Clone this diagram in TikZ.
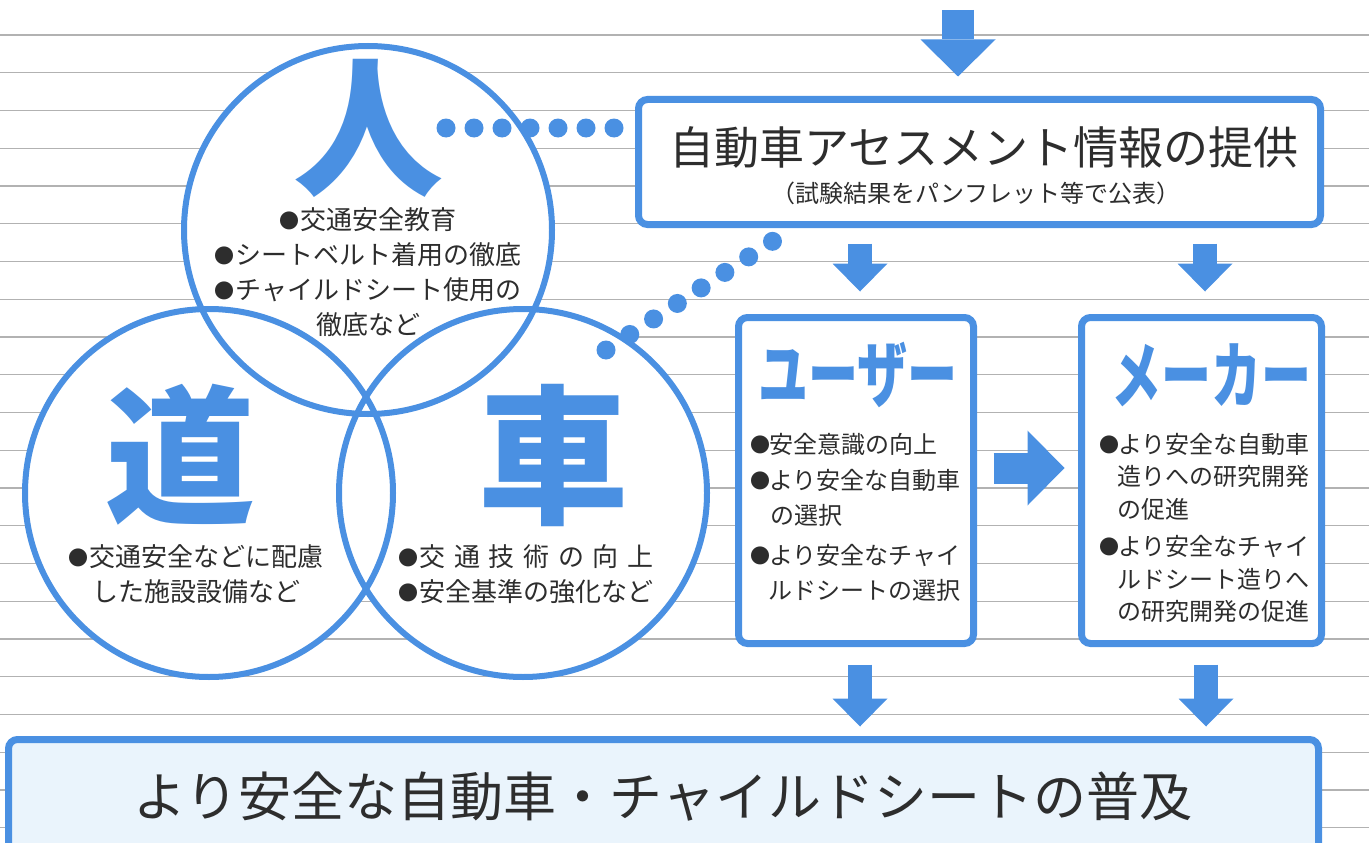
\documentclass[tikz,border=0pt]{standalone}
\usepackage{fontspec}
\setmainfont{Noto Sans CJK JP}
\usetikzlibrary{arrows.meta,calc}
\definecolor{ablue}{RGB}{74,144,226}
\definecolor{lgray}{RGB}{178,178,178}
\definecolor{pale}{RGB}{234,244,252}
\definecolor{inkc}{RGB}{45,45,45}
\newcommand{\bul}{\makebox[0.8em][l]{\raisebox{1pt}{\fontsize{20}{20}\selectfont ●}}}
\begin{document}
\begin{tikzpicture}[x=1pt,y=-1pt,
  gline/.style={draw=lgray,line width=1.4pt},
  circfill/.style={circle,fill=white,minimum size=368pt,inner sep=0pt},
  cline/.style={draw=ablue,line width=6pt},
  bigch/.style={text=ablue,font=\fontsize{150}{150}\selectfont\bfseries,inner sep=0pt},
  small/.style={text=inkc,font=\fontsize{26}{35}\selectfont,inner sep=0pt},
  boxtx/.style={text=inkc,font=\fontsize{24}{35}\selectfont,inner sep=0pt,align=left,anchor=north west},
  boxst/.style={draw=ablue,line width=7pt,rounded corners=9pt,fill=white,inner sep=0pt},
  dots/.style={draw=ablue,line width=19pt,line cap=round,dash pattern=on 0pt off 28pt},
  bigarr/.style={draw=ablue,line width=32pt,-{Triangle[width=75pt,length=37pt,line width=0pt]}},
  smallarr/.style={draw=ablue,line width=24pt,-{Triangle[width=55pt,length=28pt,line width=0pt]}},
  kata/.style={text=ablue,font=\fontsize{50}{50}\selectfont\bfseries,inner sep=0pt}
]
\useasboundingbox (0,0) rectangle (1369,843);
% ruled background
\foreach \k in {0,...,21}{
  \pgfmathsetmacro\yy{35+37.75*\k}
  \draw[gline] (0,\yy) -- (1369,\yy);
}
% circles
\node[circfill] (hito) at (368,230) {};
\node[circfill] (michi) at (209,493) {};
\node[circfill] (kuruma) at (523,493) {};
\draw[cline] (hito.center) circle[radius=184pt];
\draw[cline] (michi.center) circle[radius=184pt];
\draw[cline] (kuruma.center) circle[radius=184pt];
\node[bigch] (hitoch) at (368,128) {人};
\node[bigch] (michich) at (180,455) {道};
\node[bigch] (kurumach) at (553,455) {車};
\node[small,align=center,anchor=north] (hitotx) at (368,207)
  {\bul 交通安全教育\\\bul シートベルト着用の徹底\\\bul チャイルドシート使用の\\徹底など};
\node[small,align=center,anchor=north] (michitx) at (196,544)
  {\bul 交通安全などに配慮\\した施設設備など};
\node[small,align=left,anchor=north] (kurumatx) at (526,544)
  {\setbox0\hbox{\bul 安全基準の強化など}\makebox[\wd0][s]{\bul 交\hfill 通\hfill 技\hfill 術\hfill の\hfill 向\hfill 上}\\\bul 安全基準の強化など};
% information box
\node[boxst,minimum width=682pt,minimum height=125pt] (info) at (979.5,162) {};
\node[text=inkc,font=\fontsize{45}{45}\selectfont,inner sep=0pt] (infotitle) at (984,147) {自動車アセスメント情報の提供};
\node[text=inkc,font=\fontsize{24}{24}\selectfont,inner sep=0pt] (infosub) at (976,193) {（試験結果をパンフレット等で公表）};
% user / maker boxes
\node[boxst,minimum width=235pt,minimum height=326pt] (user) at (856,480.5) {};
\node[boxst,minimum width=240pt,minimum height=326pt] (maker) at (1201.5,480.5) {};
\node[kata] (usertitle) at (858,375) {\scalebox{1}[1.45]{ユーザー}};
\node[kata] (makertitle) at (1211,375) {\scalebox{1}[1.45]{メーカー}};
\node[boxtx] (usertx) at (750,433)
  {\bul 安全意識の向上\\[1pt]
   \bul より安全な自動車\\
   \hspace*{0.85em}の選択\\[5pt]
   \bul より安全なチャイ\\
   \hspace*{0.75em}ルドシートの選択};
\node[boxtx,font=\fontsize{24}{32.5}\selectfont] (makertx) at (1099,433)
  {\bul より安全な自動車\\
   \hspace*{0.75em}造りへの研究開発\\
   \hspace*{0.75em}の促進\\[5pt]
   \bul より安全なチャイ\\
   \hspace*{0.75em}ルドシート造りへ\\
   \hspace*{0.75em}の研究開発の促進};
% bottom box
\node[boxst,fill=pale,minimum width=1310pt,minimum height=140pt] (fukyu) at (663.5,809.5) {};
\node[text=inkc,font=\fontsize{53}{53}\selectfont,inner sep=0pt] (fukyutx) at (663,797) {より安全な自動車・チャイルドシートの普及};
% dotted links
\coordinate (dotA1) at (446,128);
\coordinate (dotB1) at (606,350);
\draw[dots] (dotA1) -- (dotA1 -| info.west);
\draw[dots,dash pattern=on 0pt off 28.4pt] (dotB1) -- ($(dotB1)!199.4pt!(773,241)$) coordinate (dotB2);
% arrows
\coordinate (srcA) at (958,10);
\draw[bigarr] (srcA) -- ($(srcA |- info.north)+(0,-19.5)$);
\draw[smallarr] ($(info.south -| user.north)+(4,15.5)$) -- ($(user.north)+(4,-22.5)$);
\draw[smallarr] ($(info.south -| maker.north)+(3.5,15.5)$) -- ($(maker.north)+(3.5,-22.5)$);
\draw[smallarr] ($(user.south)+(4,17.5)$) -- ($(fukyu.north -| user.south)+(4,-9.5)$);
\draw[smallarr] ($(maker.south)+(4.5,17.5)$) -- ($(fukyu.north -| maker.south)+(4.5,-9.5)$);
\draw[bigarr,line width=31pt] ($(user.east)+(16.5,-12.5)$) -- ($(maker.west)+(-13.5,-12.5)$);
\end{tikzpicture}
\end{document}
